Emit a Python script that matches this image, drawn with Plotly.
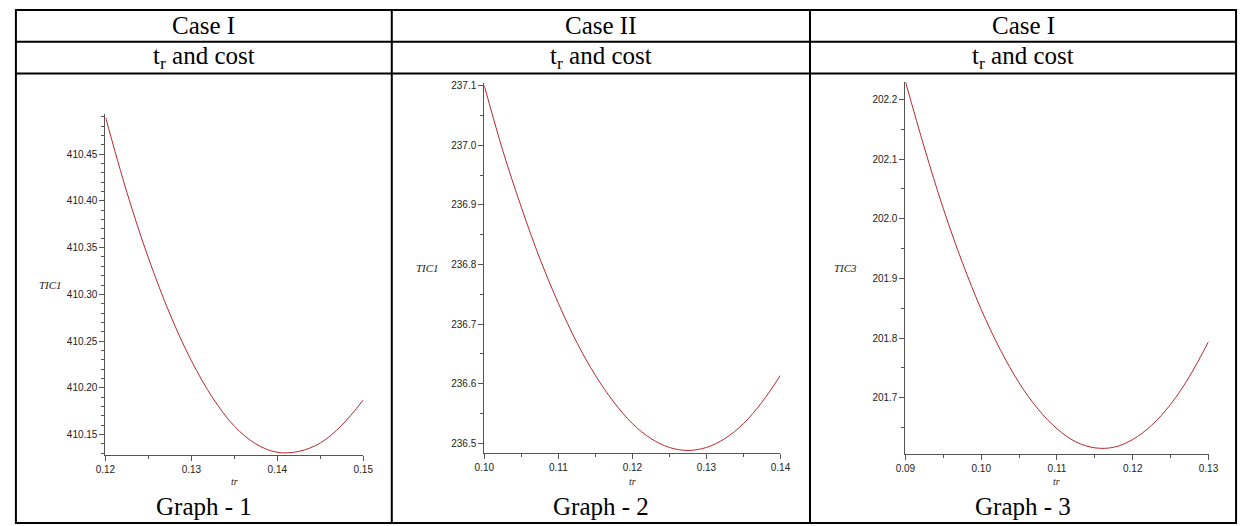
import plotly.graph_objects as go

W, H = 1250, 526

# ---------------- data ----------------
tr1 = [0.120, 0.1225, 0.125, 0.1275, 0.130, 0.1325, 0.135, 0.1375, 0.140, 0.1425, 0.145, 0.1475, 0.150]
tic1_case1 = [410.490, 410.409, 410.339, 410.279, 410.229, 410.189, 410.159, 410.140, 410.131, 410.132, 410.141, 410.160, 410.187]

tr2 = [0.100, 0.1025, 0.105, 0.1075, 0.110, 0.1125, 0.115, 0.1175, 0.120, 0.1225, 0.125, 0.1275, 0.130, 0.1325, 0.135, 0.1375, 0.140]
tic1_case2 = [237.100, 236.991, 236.896, 236.810, 236.735, 236.669, 236.614, 236.569, 236.533, 236.508, 236.493, 236.488, 236.493, 236.508, 236.533, 236.569, 236.614]

tr3 = [0.090, 0.0925, 0.095, 0.0975, 0.100, 0.1025, 0.105, 0.1075, 0.110, 0.1125, 0.115, 0.1175, 0.120, 0.1225, 0.125, 0.1275, 0.130]
tic3_case1 = [202.230, 202.119, 202.017, 201.927, 201.848, 201.781, 201.725, 201.681, 201.648, 201.626, 201.616, 201.617, 201.630, 201.654, 201.689, 201.736, 201.794]

header1 = ["Case I", "Case II", "Case I"]
header2 = ["t<sub>r</sub> and cost"] * 3
footer = ["Graph - 1", "Graph - 2", "Graph - 3"]
ylabels = ["TIC1", "TIC1", "TIC3"]
xlabel = "tr"

# ---------------- helpers ----------------
def px(x):
    return x / W

def py(y):
    return 1 - y / H

fig = go.Figure()

line_col = "#b8282e"
fig.add_trace(go.Scatter(x=tr1, y=tic1_case1, mode="lines", line=dict(color=line_col, width=1, shape="spline"),
                         xaxis="x", yaxis="y", showlegend=False, hoverinfo="skip"))
fig.add_trace(go.Scatter(x=tr2, y=tic1_case2, mode="lines", line=dict(color=line_col, width=1, shape="spline"),
                         xaxis="x2", yaxis="y2", showlegend=False, hoverinfo="skip"))
fig.add_trace(go.Scatter(x=tr3, y=tic3_case1, mode="lines", line=dict(color=line_col, width=1, shape="spline"),
                         xaxis="x3", yaxis="y3", showlegend=False, hoverinfo="skip"))

tickfont = dict(family="Liberation Sans, Arial, sans-serif", size=10, color="#222")
axis_common = dict(showgrid=False, zeroline=False, showline=True, linecolor="#555", linewidth=1,
                   ticks="outside", ticklen=5, tickcolor="#555", tickfont=tickfont)

def xax(domain, rng, tick0, anchor):
    return dict(axis_common, domain=[px(domain[0]), px(domain[1])], range=rng, anchor=anchor,
                tickmode="linear", tick0=tick0, dtick=0.01, tickformat=".2f",
                minor=dict(tickmode="linear", tick0=tick0, dtick=0.005, ticks="outside", ticklen=3, tickcolor="#555"))

def yax(domain, rng, tick0, dtick, mdtick, fmt, anchor):
    return dict(axis_common, domain=[py(domain[1]), py(domain[0])], range=rng, anchor=anchor,
                tickmode="linear", tick0=tick0, dtick=dtick, tickformat=fmt,
                minor=dict(tickmode="linear", tick0=tick0, dtick=mdtick, ticks="outside", ticklen=3, tickcolor="#555"))

# plot pixel boxes: (left, right), (top, bottom)
p1x, p1y = (97, 359), (112, 455)
p2x, p2y = (482, 783), (80.7, 453)
p3x, p3y = (910, 1218), (79, 454)

fig.update_layout(
    xaxis=xax(p1x, [0.12, 0.15], 0.12, "y"),
    yaxis=yax(p1y, [410.1277, 410.4926], 410.15, 0.05, 0.01, ".2f", "x"),
    xaxis2=xax(p2x, [0.10, 0.14], 0.10, "y2"),
    yaxis2=yax(p2y, [236.483, 237.104], 236.5, 0.1, 0.05, ".1f", "x2"),
    xaxis3=xax(p3x, [0.09, 0.13], 0.09, "y3"),
    yaxis3=yax(p3y, [201.605, 202.23], 201.7, 0.1, 0.05, ".1f", "x3"),
)

# ---------------- table lines ----------------
L, R, T, B = 6, 1246, 7, 523
rows = [39, 71]
cols = [388, 813]
shapes = []
lw = 2
shapes.append(dict(type="rect", xref="paper", yref="paper", x0=px(L), x1=px(R), y0=py(B), y1=py(T),
                   line=dict(color="black", width=lw)))
for r in rows:
    shapes.append(dict(type="line", xref="paper", yref="paper", x0=px(L), x1=px(R), y0=py(r), y1=py(r),
                       line=dict(color="black", width=lw)))
for c in cols:
    shapes.append(dict(type="line", xref="paper", yref="paper", x0=px(c), x1=px(c), y0=py(B), y1=py(T),
                       line=dict(color="black", width=lw)))

# ---------------- texts ----------------
serif = "Liberation Serif, Times New Roman, serif"
centers = [(L + cols[0]) / 2, (cols[0] + cols[1]) / 2, (cols[1] + R) / 2]
ann = []
for i, cx in enumerate(centers):
    ann.append(dict(text=header1[i], x=px(cx), y=py(23), xref="paper", yref="paper", showarrow=False,
                    font=dict(family=serif, size=25, color="black"), xanchor="center", yanchor="middle"))
    ann.append(dict(text=header2[i], x=px(cx), y=py(55), xref="paper", yref="paper", showarrow=False,
                    font=dict(family=serif, size=25, color="black"), xanchor="center", yanchor="middle"))
    ann.append(dict(text=footer[i], x=px(cx), y=py(506), xref="paper", yref="paper", showarrow=False,
                    font=dict(family=serif, size=25, color="black"), xanchor="center", yanchor="middle"))

ylab_pos = [(41, (p1y[0] + p1y[1]) / 2), (424, (p2y[0] + p2y[1]) / 2), (849, (p3y[0] + p3y[1]) / 2)]
for i, (x, y) in enumerate(ylab_pos):
    ann.append(dict(text="<i>" + ylabels[i] + "</i>", x=px(x), y=py(y), xref="paper", yref="paper", showarrow=False,
                    font=dict(family=serif, size=11, color="#222"), xanchor="center", yanchor="middle"))
for (a, b) in [p1x, p2x, p3x]:
    ann.append(dict(text="<i>" + xlabel + "</i>", x=px((a + b) / 2), y=py(481), xref="paper", yref="paper",
                    showarrow=False, font=dict(family=serif, size=10, color="#222"),
                    xanchor="center", yanchor="middle"))

fig.update_layout(width=W, height=H, margin=dict(l=0, r=0, t=0, b=0), paper_bgcolor="white",
                  plot_bgcolor="white", shapes=shapes, annotations=ann, showlegend=False)

fig.write_html("out.html", config={"displayModeBar": False},
               post_script="document.body.style.margin='0';document.body.style.padding='0';"
                           "document.body.style.overflow='hidden';"
                           "document.documentElement.style.overflow='hidden';")
